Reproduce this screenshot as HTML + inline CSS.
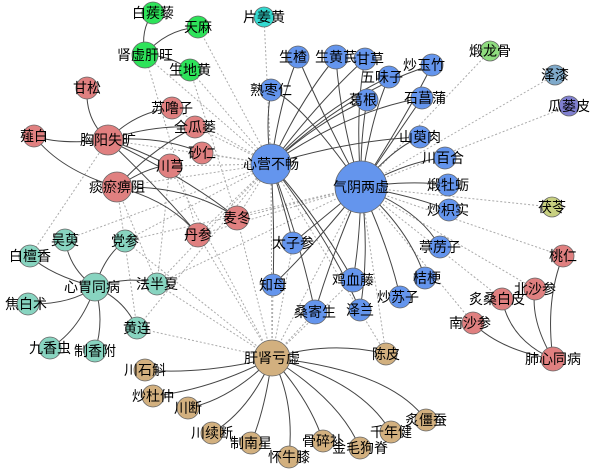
<!DOCTYPE html>
<html><head><meta charset="utf-8"><style>
html,body{margin:0;padding:0;background:#fff}
svg{display:block}
text{font-family:"Liberation Sans","Noto Sans CJK SC",sans-serif;font-size:14px;fill:#000;text-anchor:middle}
.s{stroke:#444;stroke-width:1;fill:none}
.d{stroke:#aaa;stroke-width:1;stroke-dasharray:2 2;fill:none}
circle{stroke:#666;stroke-width:0.8}
</style></head><body>
<svg width="600" height="475" viewBox="0 0 600 475" xmlns="http://www.w3.org/2000/svg">
<g class="d">
<path d="M271 164L264 17"/><path d="M271 164L198 27"/><path d="M271 164L190 70"/><path d="M271 164L145 55"/>
<path d="M271 164L172 108"/><path d="M271 164L195 127"/><path d="M271 164L202 153"/><path d="M271 164L170 166"/>
<path d="M271 164L198 235"/><path d="M271 164L237 218"/><path d="M271 164L125 241"/><path d="M271 164L157 284"/>
<path d="M271 164L137 328"/><path d="M271 164L108 140"/><path d="M271 164L117 187"/><path d="M271 164L65 240"/>
<path d="M361 187L490 51"/><path d="M361 187L555 75"/><path d="M361 187L569 106"/><path d="M361 187L552 207"/>
<path d="M361 187L535 289"/><path d="M361 187L563 256"/><path d="M361 187L473 323"/><path d="M361 187L502 299"/>
<path d="M361 187L237 218"/><path d="M361 187L198 235"/><path d="M361 187L157 284"/><path d="M361 187L125 241"/>
<path d="M272 358L237 218"/><path d="M272 358L198 235"/><path d="M272 358L293 243"/><path d="M272 358L273 285"/>
<path d="M272 358L271 164"/><path d="M272 358L157 284"/><path d="M272 358L137 328"/><path d="M272 358L125 241"/>
<path d="M272 358L315 312"/><path d="M272 358L361 187"/><path d="M272 358L353 280"/><path d="M272 358L170 166"/>
<path d="M386 354L361 187"/><path d="M386 354L271 164"/><path d="M145 55L198 235"/><path d="M190 70L237 218"/>
<path d="M108 140L30 256"/><path d="M117 187L137 328"/><path d="M117 187L157 284"/><path d="M170 166L157 284"/>
</g>
<g class="s">
<path d="M145 55Q140 30 153 13"/><path d="M145 55Q165 30 198 27"/><path d="M145 55Q170 55 190 70"/>
<path d="M108 140Q85 120 87 88"/><path d="M108 140Q60 145 34 136"/><path d="M108 140Q135 112 172 108"/><path d="M108 140Q150 125 195 127"/>
<path d="M108 140Q160 135 202 153"/><path d="M108 140Q140 150 170 166"/><path d="M108 140Q170 200 198 235"/><path d="M108 140Q190 180 237 218"/>
<path d="M117 187Q60 170 34 136"/><path d="M117 187Q150 150 195 127"/><path d="M117 187Q150 165 170 166"/><path d="M117 187Q190 185 237 218"/><path d="M117 187Q170 200 198 235"/>
<path d="M271 164Q265 125 271 90"/><path d="M271 164Q280 100 298 57"/><path d="M271 164Q300 100 336 57"/><path d="M271 164Q320 100 365 59"/>
<path d="M271 164Q320 110 389 77"/><path d="M271 164Q320 120 367 100"/><path d="M271 164Q350 110 422 98"/><path d="M271 164Q350 140 420 137"/>
<path d="M271 164Q350 90 432 65"/><path d="M271 164Q285 210 293 243"/><path d="M271 164Q275 230 273 285"/><path d="M271 164Q300 240 315 312"/>
<path d="M271 164Q320 220 353 280"/><path d="M271 164Q330 240 360 310"/>
<path d="M361 187Q300 100 271 90"/><path d="M361 187Q320 110 298 57"/><path d="M361 187Q340 120 336 57"/><path d="M361 187Q355 110 365 59"/>
<path d="M361 187Q370 120 389 77"/><path d="M361 187Q360 140 367 100"/><path d="M361 187Q400 130 422 98"/><path d="M361 187Q390 150 420 137"/>
<path d="M361 187Q410 110 432 65"/><path d="M361 187Q410 160 445 158"/><path d="M361 187Q410 180 448 185"/><path d="M361 187Q410 195 449 210"/>
<path d="M361 187Q420 210 440 247"/><path d="M361 187Q410 230 425 278"/><path d="M361 187Q390 250 400 297"/><path d="M361 187Q360 240 353 280"/>
<path d="M361 187Q370 250 360 310"/><path d="M361 187Q330 260 315 312"/><path d="M361 187Q320 220 293 243"/><path d="M361 187Q310 250 273 285"/>
<path d="M95 287Q70 270 65 240"/><path d="M95 287Q50 275 30 256"/><path d="M95 287Q105 255 125 241"/><path d="M95 287Q130 275 157 284"/>
<path d="M95 287Q70 305 28 304"/><path d="M95 287Q125 300 137 328"/><path d="M95 287Q80 330 50 348"/><path d="M95 287Q105 320 95 351"/>
<path d="M272 358Q200 375 145 370"/><path d="M272 358Q210 390 153 396"/><path d="M272 358Q230 400 188 408"/><path d="M272 358Q250 410 212 433"/>
<path d="M272 358Q265 410 251 443"/><path d="M272 358Q295 400 289 457"/><path d="M272 358Q310 400 323 441"/><path d="M272 358Q340 400 360 448"/>
<path d="M272 358Q360 380 391 432"/><path d="M272 358Q390 370 426 420"/><path d="M272 358Q330 340 386 354"/>
<path d="M553 359Q545 300 563 256"/><path d="M553 359Q530 320 535 289"/><path d="M553 359Q510 340 502 299"/><path d="M553 359Q500 350 473 323"/>
</g>
<g>
<circle cx="153" cy="13" r="11" fill="#2ee35a"/><circle cx="198" cy="27" r="11" fill="#2ee35a"/><circle cx="145" cy="55" r="13" fill="#2ee35a"/><circle cx="190" cy="70" r="11" fill="#2ee35a"/>
<circle cx="264" cy="17" r="10" fill="#33d9d0"/>
<circle cx="87" cy="88" r="11" fill="#e08080"/><circle cx="34" cy="136" r="11" fill="#e08080"/><circle cx="108" cy="140" r="15" fill="#e08080"/>
<circle cx="172" cy="108" r="11" fill="#e08080"/><circle cx="195" cy="127" r="11" fill="#e08080"/><circle cx="202" cy="153" r="11" fill="#e08080"/>
<circle cx="170" cy="166" r="12" fill="#e08080"/><circle cx="117" cy="187" r="15" fill="#e08080"/><circle cx="237" cy="218" r="12" fill="#e08080"/><circle cx="198" cy="235" r="12" fill="#e08080"/>
<circle cx="271" cy="164" r="20" fill="#6495ed"/><circle cx="361" cy="187" r="26" fill="#6495ed"/>
<circle cx="271" cy="90" r="11" fill="#6495ed"/><circle cx="298" cy="57" r="11" fill="#6495ed"/><circle cx="336" cy="57" r="12" fill="#6495ed"/><circle cx="365" cy="59" r="11" fill="#6495ed"/>
<circle cx="389" cy="77" r="11" fill="#6495ed"/><circle cx="432" cy="65" r="11" fill="#6495ed"/><circle cx="367" cy="100" r="11" fill="#6495ed"/><circle cx="422" cy="98" r="11" fill="#6495ed"/>
<circle cx="420" cy="137" r="11" fill="#6495ed"/><circle cx="445" cy="158" r="11" fill="#6495ed"/><circle cx="448" cy="185" r="11" fill="#6495ed"/><circle cx="449" cy="210" r="11" fill="#6495ed"/>
<circle cx="440" cy="247" r="11" fill="#6495ed"/><circle cx="425" cy="278" r="11" fill="#6495ed"/><circle cx="400" cy="297" r="11" fill="#6495ed"/><circle cx="353" cy="280" r="12" fill="#6495ed"/>
<circle cx="360" cy="310" r="11" fill="#6495ed"/><circle cx="315" cy="312" r="12" fill="#6495ed"/><circle cx="273" cy="285" r="11" fill="#6495ed"/><circle cx="293" cy="243" r="11" fill="#6495ed"/>
<circle cx="490" cy="51" r="10" fill="#8fdc7f"/><circle cx="555" cy="75" r="10" fill="#7faacb"/><circle cx="569" cy="106" r="10" fill="#8080d0"/><circle cx="552" cy="207" r="10" fill="#c8d080"/>
<circle cx="563" cy="256" r="11" fill="#e08080"/><circle cx="535" cy="289" r="11" fill="#e08080"/><circle cx="502" cy="299" r="11" fill="#e08080"/><circle cx="473" cy="323" r="11" fill="#e08080"/><circle cx="553" cy="359" r="12" fill="#e08080"/>
<circle cx="65" cy="240" r="11" fill="#88d4c0"/><circle cx="30" cy="256" r="11" fill="#88d4c0"/><circle cx="125" cy="241" r="11" fill="#88d4c0"/><circle cx="95" cy="287" r="14" fill="#88d4c0"/>
<circle cx="157" cy="284" r="11" fill="#88d4c0"/><circle cx="28" cy="304" r="11" fill="#88d4c0"/><circle cx="137" cy="328" r="11" fill="#88d4c0"/><circle cx="50" cy="348" r="11" fill="#88d4c0"/><circle cx="95" cy="351" r="11" fill="#88d4c0"/>
<circle cx="272" cy="358" r="18" fill="#d2b07f"/><circle cx="386" cy="354" r="11" fill="#d2b07f"/><circle cx="145" cy="370" r="11" fill="#d2b07f"/><circle cx="153" cy="396" r="11" fill="#d2b07f"/>
<circle cx="188" cy="408" r="11" fill="#d2b07f"/><circle cx="212" cy="433" r="11" fill="#d2b07f"/><circle cx="251" cy="443" r="11" fill="#d2b07f"/><circle cx="289" cy="457" r="11" fill="#d2b07f"/>
<circle cx="323" cy="441" r="11" fill="#d2b07f"/><circle cx="360" cy="448" r="11" fill="#d2b07f"/><circle cx="391" cy="432" r="11" fill="#d2b07f"/><circle cx="426" cy="420" r="11" fill="#d2b07f"/>
</g>
<g>
<text x="153" y="18">白蒺藜</text><text x="198" y="32">天麻</text><text x="145" y="60">肾虚肝旺</text><text x="190" y="75">生地黄</text><text x="264" y="22">片姜黄</text>
<text x="87" y="93">甘松</text><text x="34" y="141">薤白</text><text x="108" y="145">胸阳失旷</text><text x="172" y="113">苏噜子</text><text x="195" y="132">全瓜蒌</text>
<text x="202" y="158">砂仁</text><text x="170" y="171">川芎</text><text x="117" y="192">痰瘀痹阻</text><text x="237" y="223">麦冬</text><text x="198" y="240">丹参</text>
<text x="271" y="169">心营不畅</text><text x="361" y="192">气阴两虚</text>
<text x="271" y="95">熟枣仁</text><text x="293" y="62">生楂</text><text x="336" y="62">生黄芪</text><text x="370" y="64">甘草</text><text x="382" y="82">五味子</text>
<text x="424" y="70">炒玉竹</text><text x="363" y="105">葛根</text><text x="425" y="103">石菖蒲</text><text x="420" y="142">山萸肉</text><text x="443" y="163">川百合</text>
<text x="448" y="190">煅牡蛎</text><text x="448" y="215">炒枳实</text><text x="440" y="252">葶苈子</text><text x="427" y="283">桔梗</text><text x="398" y="302">炒苏子</text>
<text x="353" y="285">鸡血藤</text><text x="360" y="315">泽兰</text><text x="315" y="317">桑寄生</text><text x="273" y="290">知母</text><text x="293" y="248">太子参</text>
<text x="490" y="56">煅龙骨</text><text x="555" y="80">泽漆</text><text x="569" y="111">瓜蒌皮</text><text x="552" y="212">茯苓</text>
<text x="563" y="261">桃仁</text><text x="535" y="294">北沙参</text><text x="497" y="304">炙桑白皮</text><text x="470" y="328">南沙参</text><text x="553" y="364">肺心同病</text>
<text x="65" y="245">吴萸</text><text x="30" y="261">白檀香</text><text x="125" y="246">党参</text><text x="92" y="292">心胃同病</text><text x="157" y="289">法半夏</text>
<text x="26" y="309">焦白术</text><text x="137" y="333">黄连</text><text x="50" y="353">九香虫</text><text x="95" y="356">制香附</text>
<text x="272" y="363">肝肾亏虚</text><text x="386" y="359">陈皮</text><text x="145" y="375">川石斛</text><text x="153" y="401">炒杜仲</text><text x="188" y="413">川断</text>
<text x="212" y="438">川续断</text><text x="251" y="448">制南星</text><text x="289" y="462">怀牛膝</text><text x="323" y="446">骨碎补</text><text x="360" y="453">金毛狗脊</text>
<text x="391" y="437">千年健</text><text x="426" y="425">炙僵蚕</text>
</g>
</svg>
</body></html>
